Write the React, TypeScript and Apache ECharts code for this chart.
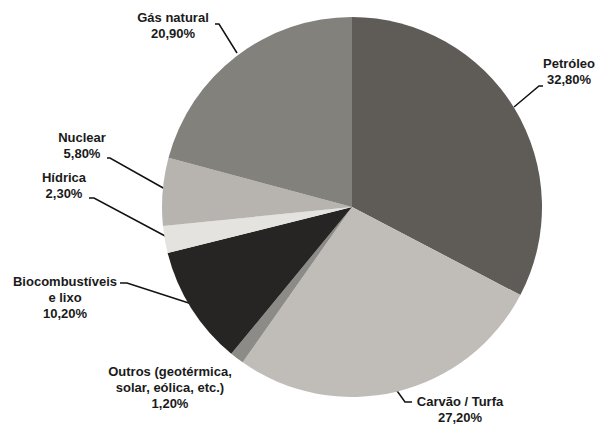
import React, { useEffect, useRef } from "react";
import * as echarts from "echarts";

const categories = [
  "Petróleo",
  "Carvão / Turfa",
  "Outros (geotérmica,\nsolar, eólica, etc.)",
  "Biocombustíveis\ne lixo",
  "Hídrica",
  "Nuclear",
  "Gás natural",
];
const values = [32.8, 27.2, 1.2, 10.2, 2.3, 5.8, 20.9];
const colors = ["#5f5c57", "#c0bdb9", "#8d8b87", "#262523", "#e4e3df", "#b7b4b0", "#83817c"];

// label block centres and leader lines (decoration)
const labelCenters: [number, number][] = [
  [569, 71],
  [460, 409],
  [170, 387],
  [65, 297],
  [64, 185],
  [82, 145],
  [173, 25],
];
const leaderLines: ([number, number][] | null)[] = [
  [[514, 107], [539, 86], [543, 86]],
  [[395, 388], [405, 402], [412, 402]],
  null,
  [[195, 305], [127, 283], [120, 283]],
  [[167, 237], [94, 198], [89, 198]],
  [[165, 189], [110, 158], [107, 158]],
  [[237, 53], [219, 24], [215, 24]],
];

export default function App() {
  const ref = useRef<HTMLDivElement>(null);
  useEffect(() => {
    document.body.style.margin = "0";
    const chart = echarts.init(ref.current!, null, { renderer: "svg" });
    chart.setOption({
      animation: false,
      backgroundColor: "#ffffff",
      series: [
        {
          type: "pie",
          center: [352, 207],
          radius: 190,
          startAngle: 90,
          clockwise: true,
          avoidLabelOverlap: false,
          data: categories.map((c, i) => ({
            name: c,
            value: values[i],
            itemStyle: { color: colors[i] },
            labelLine: { show: leaderLines[i] !== null },
          })),
          label: {
            show: true,
            position: "outside",
            formatter: (p: any) => `${p.name}\n${Number(p.value).toFixed(2).replace(".", ",")}%`,
            fontFamily: "Liberation Sans",
            fontWeight: "bold",
            fontSize: 13,
            lineHeight: 16,
            color: "#1a1a1a",
            align: "center",
          },
          labelLine: {
            show: true,
            lineStyle: { color: "#111111", width: 1.5 },
          },
          labelLayout: (params: any) => {
            const i = params.dataIndex;
            const c = labelCenters[i];
            const res: any = {
              x: c[0],
              y: c[1],
              align: "center",
              verticalAlign: "middle",
            };
            if (leaderLines[i]) res.labelLinePoints = leaderLines[i];
            return res;
          },
        },
      ],
    });
    return () => chart.dispose();
  }, []);
  return <div ref={ref} style={{ width: 600, height: 424 }} />;
}
